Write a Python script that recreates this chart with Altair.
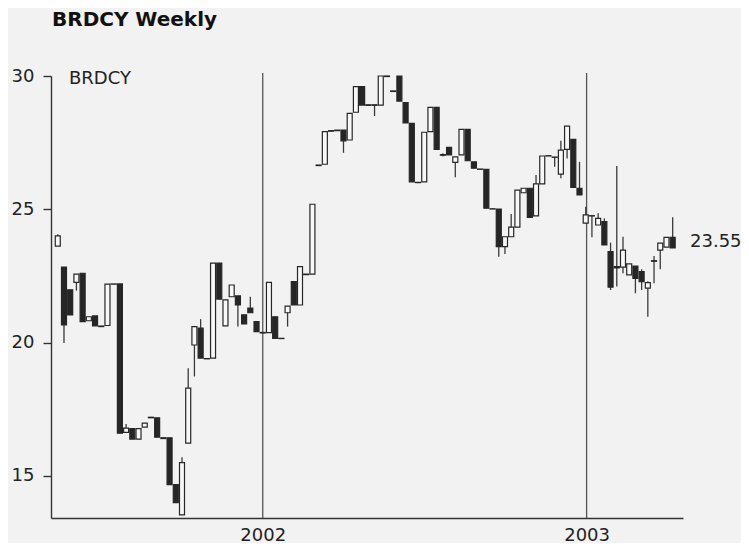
import altair as alt
import pandas as pd

ticker = "BRDCY"
title_text = "BRDCY Weekly"
last_label = "23.55"
start_date = "2001-05-15"
year_lines = ["2002-01-01T00:00:00", "2003-01-01T00:00:00"]
y_ticks = [15, 20, 25, 30]

opens = [23.62, 22.83, 21.98, 22.26, 22.60, 20.82, 21.00, 20.62, 20.64, 22.19,
         22.20, 16.63, 16.77, 16.38, 16.83, 17.20, 17.18, 16.43, 16.43, 14.67,
         13.54, 16.23, 19.91, 20.54, 19.40, 19.42, 22.98, 20.63, 21.72, 21.75,
         21.04, 21.29, 20.79, 20.38, 20.37, 20.97, 20.16, 21.12, 22.29, 21.41,
         22.57, 22.57, 26.66, 26.69, 27.95, 27.97, 27.97, 27.60, 28.64, 29.60,
         28.92, 28.92, 28.91, 30.00, 29.44, 30.00, 29.00, 28.22, 26.01, 26.03,
         27.91, 28.82, 27.05, 27.32, 26.76, 27.04, 28.00, 26.78, 26.51, 26.50,
         25.02, 25.01, 23.60, 23.97, 24.33, 25.62, 25.79, 24.75, 25.95, 27.01,
         26.96, 26.32, 27.25, 27.62, 25.79, 24.48, 24.76, 24.41, 24.54, 23.41,
         22.80, 22.83, 22.54, 22.87, 22.66, 22.04, 23.07, 23.47, 23.58, 23.95]
highs = [24.06, 22.83, 21.98, 22.57, 22.60, 20.97, 21.00, 20.62, 22.19, 22.20,
         22.20, 16.95, 16.77, 16.77, 16.98, 17.20, 17.18, 16.43, 16.43, 14.67,
         15.70, 19.04, 20.60, 20.88, 19.40, 22.98, 22.98, 21.60, 22.16, 21.75,
         21.04, 21.72, 20.79, 20.38, 22.26, 20.97, 20.16, 21.37, 22.29, 22.85,
         22.57, 25.19, 26.66, 27.91, 27.95, 27.97, 27.97, 28.60, 29.60, 29.60,
         28.92, 28.92, 30.00, 30.00, 29.44, 30.00, 29.00, 28.22, 26.01, 27.89,
         28.82, 28.82, 27.10, 27.32, 26.97, 28.00, 28.00, 26.78, 26.51, 26.50,
         25.02, 25.01, 23.97, 24.82, 25.72, 25.79, 25.79, 26.29, 27.00, 27.01,
         26.96, 27.57, 28.12, 27.62, 26.78, 25.10, 24.76, 24.85, 24.66, 23.75,
         26.62, 23.97, 22.95, 22.87, 22.75, 22.30, 23.25, 23.73, 23.95, 24.70]
lows = [23.62, 19.98, 21.04, 21.95, 20.79, 20.82, 20.63, 20.60, 20.64, 22.19,
        16.60, 16.63, 16.38, 16.38, 16.83, 17.18, 16.45, 16.40, 14.67, 14.00,
        13.54, 16.23, 18.73, 19.42, 19.39, 19.42, 21.63, 20.63, 21.72, 20.60,
        20.70, 21.12, 20.41, 20.36, 20.37, 20.16, 20.15, 20.60, 21.41, 21.41,
        22.55, 22.57, 26.64, 26.69, 27.93, 27.95, 27.12, 27.60, 28.64, 28.91,
        28.90, 28.50, 28.91, 29.98, 29.42, 29.06, 28.24, 26.03, 26.00, 26.03,
        27.91, 27.25, 26.98, 27.04, 26.20, 27.04, 26.82, 26.54, 26.50, 25.04,
        25.01, 23.22, 23.32, 23.97, 24.33, 25.62, 24.70, 24.75, 25.95, 27.00,
        26.60, 26.16, 26.91, 25.82, 25.54, 24.48, 23.95, 24.41, 23.66, 21.97,
        22.10, 22.60, 22.54, 21.85, 21.97, 20.97, 22.23, 22.75, 23.58, 23.55]
closes = [24.00, 20.66, 21.04, 22.57, 20.79, 20.97, 20.63, 20.60, 22.19, 22.20,
          16.60, 16.79, 16.38, 16.77, 16.98, 17.18, 16.45, 16.40, 14.67, 14.00,
          15.50, 18.29, 20.60, 19.42, 19.39, 22.98, 21.63, 21.60, 22.16, 21.41,
          20.70, 21.12, 20.41, 20.36, 22.26, 20.16, 20.15, 21.37, 21.41, 22.85,
          22.55, 25.19, 26.64, 27.91, 27.93, 27.95, 27.57, 28.60, 29.60, 28.91,
          28.90, 28.90, 30.00, 29.98, 29.42, 29.06, 28.24, 26.03, 26.00, 27.89,
          28.82, 27.25, 27.03, 27.04, 26.97, 28.00, 26.82, 26.54, 26.50, 25.04,
          25.01, 23.60, 23.97, 24.33, 25.72, 25.79, 24.70, 25.95, 27.00, 27.00,
          26.95, 27.22, 28.12, 25.82, 25.54, 24.79, 24.75, 24.66, 23.66, 22.08,
          22.85, 23.47, 22.95, 22.41, 22.29, 22.25, 23.05, 23.73, 23.95, 23.55]

dates = pd.date_range(start_date, periods=len(opens), freq="7D")
df = pd.DataFrame({
    "date": dates.strftime("%Y-%m-%dT00:00:00"),
    "open": opens, "high": highs, "low": lows, "close": closes,
})

FONT = "DejaVu Sans"
INK = "#262626"

xscale = alt.Scale(domain=[alt.DateTime(year=2001, month=5, date=13),
                           alt.DateTime(year=2003, month=4, date=14)])
yscale = alt.Scale(domain=[13.42, 30.0], nice=False, zero=False)

xaxis = alt.Axis(values=[alt.DateTime(year=2002, month=1, date=1),
                         alt.DateTime(year=2003, month=1, date=1)],
                 format="%Y", ticks=False, grid=False, title=None,
                 labelFont=FONT, labelFontSize=18, labelColor="#222",
                 labelPadding=8, domainColor="#333", domainWidth=1.4)
yaxis = alt.Axis(values=y_ticks, title=None, grid=False, tickSize=8,
                 tickColor="#333", tickWidth=1.4, labelPadding=9,
                 labelFont=FONT, labelFontSize=18, labelColor="#222",
                 domainColor="#333", domainWidth=1.4)

base = alt.Chart(df).encode(x=alt.X("date:T", scale=xscale, axis=xaxis))

years = alt.Chart(pd.DataFrame({"d": year_lines})).mark_rule(
    color="#555", strokeWidth=1.3
).encode(x=alt.X("d:T", scale=xscale), y=alt.value(-3), y2=alt.value(442))

wicks = base.mark_rule(color="#3a3a3a", strokeWidth=1.3).encode(
    y=alt.Y("low:Q", scale=yscale, axis=yaxis), y2="high:Q")

bodies = base.mark_bar(size=5, stroke=INK, strokeWidth=1.2).encode(
    y=alt.Y("open:Q", scale=yscale), y2="close:Q",
    fill=alt.condition("datum.close > datum.open", alt.value("#f8f8f8"), alt.value(INK)))

inner = alt.Chart(pd.DataFrame({"t": [ticker]})).mark_text(
    font=FONT, fontSize=18, color="#222", align="left", baseline="alphabetic"
).encode(x=alt.value(18), y=alt.value(8), text="t:N")

title = alt.Chart(pd.DataFrame({"t": [title_text]})).mark_text(
    font=FONT, fontSize=20, fontWeight="bold", color="#111", align="left",
    baseline="alphabetic"
).encode(x=alt.value(1), y=alt.value(-50), text="t:N")

last = alt.Chart(pd.DataFrame({"v": [closes[-1]], "t": [last_label]})).mark_text(
    font=FONT, fontSize=18, color="#222", align="left", baseline="alphabetic", dy=-1
).encode(x=alt.value(639), y=alt.Y("v:Q", scale=yscale), text="t:N")

chart = alt.layer(years, wicks, bodies, inner, title, last).properties(
    width=632, height=442,
    autosize=alt.AutoSizeParams(type="none"),
    padding={"left": 43, "top": 68, "right": 58, "bottom": 25},
    background="#f2f2f2",
).configure_view(stroke=None)

chart.save("out.html", embed_options={"renderer": "svg", "actions": False})
